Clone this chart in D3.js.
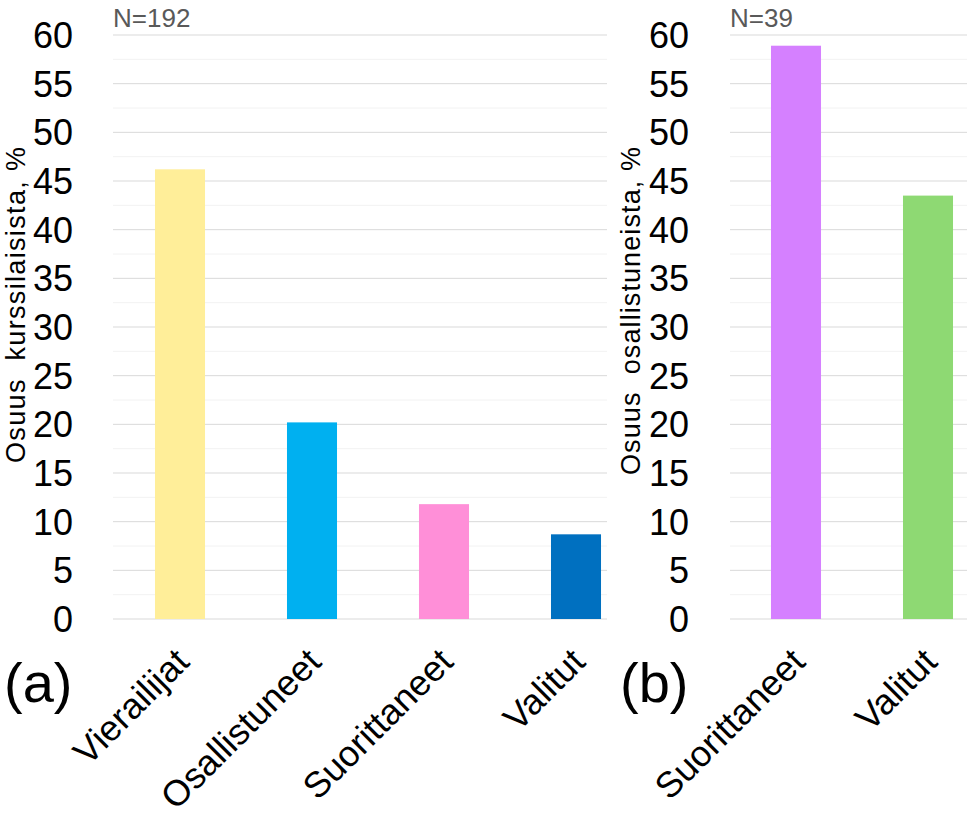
<!DOCTYPE html>
<html>
<head>
<meta charset="utf-8">
<script src="https://cdn.jsdelivr.net/npm/d3@7"></script>
<style>
  html, body { margin: 0; padding: 0; background: #fff; }
  svg { display: block; }
  text { font-family: "Liberation Sans", Arial, sans-serif; }
</style>
</head>
<body>
<svg id="chart" width="967" height="815"></svg>
<script>
// ---- data ----
const categoriesA = ["Vierailijat", "Osallistuneet", "Suorittaneet", "Valitut"];
const valuesA = [46.2, 20.2, 11.8, 8.7];
const colorsA = ["#FFEE99", "#00B0F0", "#FF8FD8", "#0070C0"];
const categoriesB = ["Suorittaneet", "Valitut"];
const valuesB = [58.9, 43.5];
const colorsB = ["#D580FF", "#8ED973"];
const majorTicks = [0, 5, 10, 15, 20, 25, 30, 35, 40, 45, 50, 55, 60];
const minorTicks = [2.5, 7.5, 12.5, 17.5, 22.5, 27.5, 32.5, 37.5, 42.5, 47.5, 52.5, 57.5];
const titleA = "Osuus  kurssilaisista, %";
const titleB = "Osuus  osallistuneista, %";
const noteA = "N=192";
const noteB = "N=39";

const svg = d3.select("#chart");
const y = d3.scaleLinear().domain([0, 60]).range([619, 35]);

function panel(cfg) {
  const g = svg.append("g");
  const x = d3.scaleBand().domain(cfg.cats).range(cfg.bandRange)
    .paddingInner(0.621).paddingOuter(0.3105);

  // gridlines
  g.selectAll("line.minor").data(minorTicks).join("line")
    .attr("x1", cfg.gridX[0]).attr("x2", cfg.gridX[1])
    .attr("y1", d => y(d)).attr("y2", d => y(d))
    .attr("stroke", "#F2F2F2").attr("stroke-width", 1);
  g.selectAll("line.major").data(majorTicks).join("line")
    .attr("x1", cfg.gridX[0]).attr("x2", cfg.gridX[1])
    .attr("y1", d => y(d)).attr("y2", d => y(d))
    .attr("stroke", "#D9D9D9").attr("stroke-width", 1);

  // tick labels
  g.selectAll("text.tick").data(majorTicks).join("text")
    .attr("x", cfg.tickX).attr("y", d => y(d)).attr("dy", "0.36em")
    .attr("text-anchor", "end").attr("font-size", 36).attr("fill", "#000")
    .text(d => d);

  // bars
  g.selectAll("rect.bar").data(cfg.cats).join("rect")
    .attr("x", d => x(d)).attr("width", x.bandwidth())
    .attr("y", (d, i) => y(cfg.vals[i]))
    .attr("height", (d, i) => y(0) - y(cfg.vals[i]))
    .attr("fill", (d, i) => cfg.colors[i]);

  // category labels
  g.selectAll("text.cat").data(cfg.cats).join("text")
    .attr("transform", d => `translate(${x(d) + x.bandwidth() / 2 + 11},664) rotate(-45)`)
    .attr("text-anchor", "end").attr("font-size", 36).attr("fill", "#000")
    .text(d => d);

  // axis title
  g.append("text")
    .attr("transform", `translate(${cfg.titleX},${cfg.titleY}) rotate(-90)`)
    .attr("text-anchor", "middle").attr("font-size", 27).attr("fill", "#000")
    .attr("textLength", cfg.titleLen).attr("lengthAdjust", "spacing")
    .style("white-space", "pre")
    .text(cfg.title);

  // N note
  g.append("text").attr("x", cfg.gridX[0]).attr("y", 27)
    .attr("font-size", 26).attr("fill", "#595959").text(cfg.note);

  // panel letter
  g.append("text").attr("x", cfg.letterX).attr("y", 702)
    .attr("font-size", 56).attr("fill", "#000").text(cfg.letter);
}

panel({ cats: categoriesA, vals: valuesA, colors: colorsA, bandRange: [114, 642],
        gridX: [113, 607], tickX: 73, title: titleA, titleX: 25, titleY: 305, titleLen: 316,
        note: noteA, letter: "(a)", letterX: 4 });
panel({ cats: categoriesB, vals: valuesB, colors: colorsB, bandRange: [730, 994],
        gridX: [730, 967], tickX: 689, title: titleB, titleX: 640, titleY: 311, titleLen: 328,
        note: noteB, letter: "(b)", letterX: 620 });
</script>
</body>
</html>
